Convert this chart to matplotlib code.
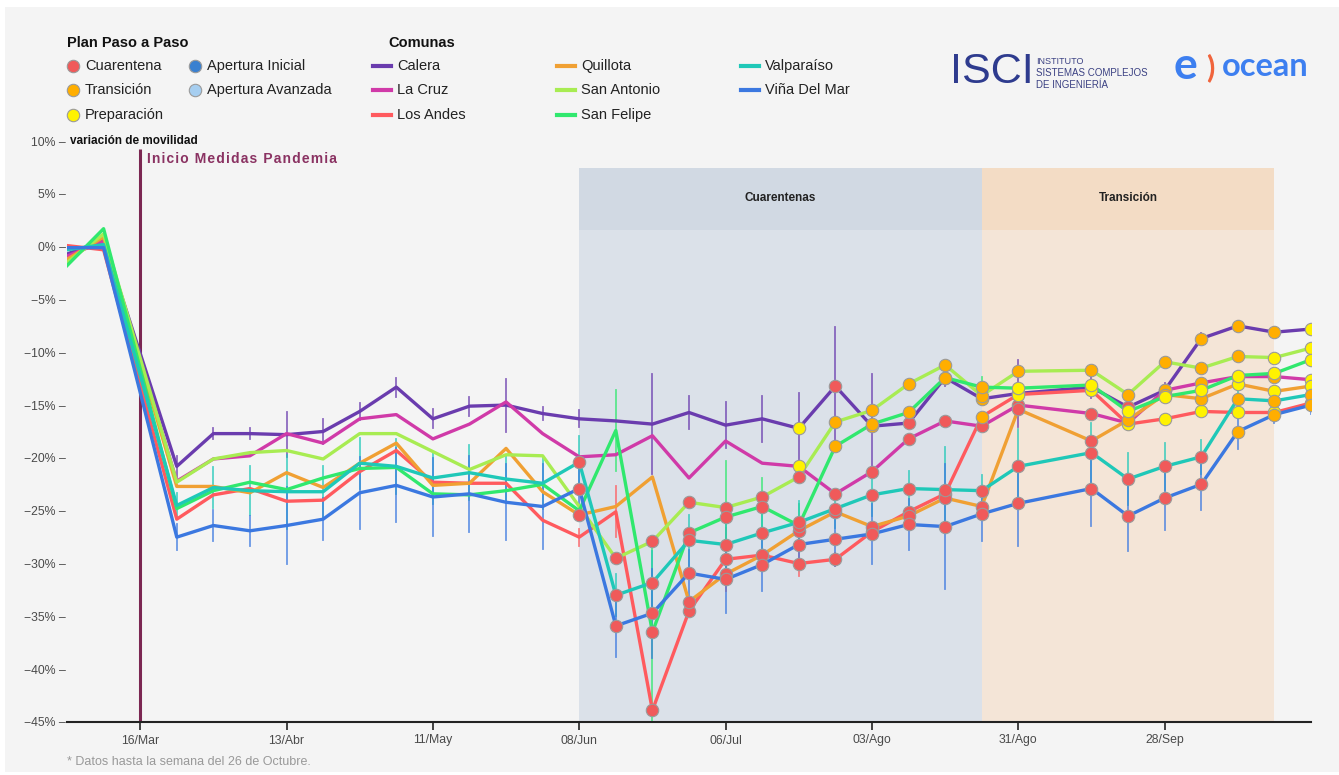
import pandas as pd
import matplotlib
matplotlib.use("Agg")
import matplotlib.pyplot as plt
from matplotlib.patches import Rectangle

plt.rcParams['font.family'] = ['Liberation Sans', 'DejaVu Sans']

# semanas con dato (falta 16/Mar y 07/Sep)
WEEKS = ["2020-03-02", "2020-03-09", "2020-03-23", "2020-03-30", "2020-04-06",
         "2020-04-13", "2020-04-20", "2020-04-27", "2020-05-04", "2020-05-11",
         "2020-05-18", "2020-05-25", "2020-06-01", "2020-06-08", "2020-06-15",
         "2020-06-22", "2020-06-29", "2020-07-06", "2020-07-13", "2020-07-20",
         "2020-07-27", "2020-08-03", "2020-08-10", "2020-08-17", "2020-08-24",
         "2020-08-31", "2020-09-14", "2020-09-21", "2020-09-28", "2020-10-05",
         "2020-10-12", "2020-10-19", "2020-10-26"]

TICK_DATES = ["2020-03-16", "2020-04-13", "2020-05-11", "2020-06-08",
              "2020-07-06", "2020-08-03", "2020-08-31", "2020-09-28"]
TICK_LABELS = ["16/Mar", "13/Abr", "11/May", "08/Jun", "06/Jul", "03/Ago", "31/Ago", "28/Sep"]
Y_TICKS = [10, 5, 0, -5, -10, -15, -20, -25, -30, -35, -40, -45]

PANDEMIA_DATE = "2020-03-16"
CUARENTENAS = ("2020-06-08", "2020-08-24")
TRANSICION = ("2020-08-24", "2020-10-19")

# variación de movilidad (%)
CALERA = [-0.7, 0.6, -20.8, -17.7, -17.7, -17.8, -17.5, -15.6, -13.3, -16.3, -15.1, -15.0, -15.8,
          -16.3, -16.5, -16.8, -15.7, -16.9, -16.3, -17.2, -13.2, -17.0, -16.7, -12.4, -14.4,
          -13.9, -13.3, -15.2, -13.6, -8.7, -7.5, -8.1, -7.8]
LA_CRUZ = [-0.9, 0.5, -22.2, -20.1, -19.8, -17.7, -18.6, -16.3, -15.9, -18.2, -16.8, -14.7, -17.7,
           -19.9, -19.7, -17.9, -21.9, -18.4, -20.5, -20.8, -23.4, -21.3, -18.2, -16.5, -17.0,
           -15.0, -15.8, -16.7, -13.6, -12.9, -12.3, -12.3, -12.6]
LOS_ANDES = [0.1, -0.3, -25.8, -23.5, -22.9, -24.1, -24.0, -21.3, -19.3, -22.3, -22.4, -22.4, -25.9,
             -27.5, -25.1, -43.9, -34.5, -29.6, -29.2, -30.0, -29.6, -27.0, -25.1, -23.4, -16.1,
             -14.0, -13.6, -16.8, -16.3, -15.6, -15.7, -15.7, -14.8]
QUILLOTA = [-1.2, 0.9, -22.7, -22.7, -23.3, -21.4, -22.8, -20.5, -18.6, -22.6, -22.4, -19.1, -23.2,
            -25.4, -24.6, -21.8, -33.6, -31.0, -29.2, -26.9, -25.1, -26.5, -25.5, -23.8, -24.6,
            -15.4, -18.4, -16.4, -14.0, -14.4, -13.0, -13.7, -13.2]
SAN_ANTONIO = [-1.5, 1.2, -22.3, -20.1, -19.5, -19.3, -20.1, -17.7, -17.7, -19.4, -21.1, -19.7, -19.8,
               -24.6, -29.5, -27.9, -24.2, -24.7, -23.7, -21.8, -16.6, -15.5, -13.0, -11.2, -14.1,
               -11.8, -11.7, -14.0, -10.9, -11.5, -10.4, -10.5, -9.6]
SAN_FELIPE = [-1.8, 1.7, -24.8, -23.1, -22.3, -23.0, -21.9, -21.0, -20.9, -23.4, -23.5, -23.1, -22.5,
              -25.0, -17.4, -36.5, -27.1, -25.6, -24.6, -26.4, -18.9, -16.8, -15.7, -12.4, -13.3,
              -13.4, -13.1, -15.6, -14.2, -13.6, -12.2, -12.0, -10.7]
VALPARAISO = [-0.3, 0.2, -24.5, -22.8, -23.1, -23.2, -23.2, -20.5, -20.8, -21.9, -21.4, -22.0, -22.4,
              -20.4, -33.0, -31.8, -27.8, -28.2, -27.1, -26.1, -24.8, -23.5, -22.9, -23.0, -23.1,
              -20.8, -19.5, -22.0, -20.8, -19.9, -14.4, -14.6, -14.0]
VINA = [-0.1, -0.1, -27.5, -26.4, -26.9, -26.4, -25.8, -23.3, -22.6, -23.7, -23.4, -24.2, -24.6,
        -22.9, -35.9, -34.7, -30.9, -31.5, -30.1, -28.2, -27.7, -27.2, -26.3, -26.5, -25.3,
        -24.3, -22.9, -25.5, -23.8, -22.5, -17.5, -15.9, -15.0]

# intervalos (+/-) dibujados como barras verticales
CALERA_ERR = [0, 0, 1.0, 0.5, 0.5, 2.1, 1.2, 0.8, 0.9, 0.9, 0.9, 2.5, 0.6, 0.8, 0, 4.7, 1.6,
              2.2, 2.2, 3.3, 5.6, 4.9, 0, 0.8, 0.5, 3.2, 1.0, 0.5, 0.7, 0.5, 0.5, 0.5, 0.5]
LOS_ANDES_ERR = [0, 0, 0, 0, 0, 0, 0, 0, 0, 0, 0, 0, 0, 0.8, 2.4, 0, 0, 3.0, 0, 1.2, 0.6,
                 0, 0, 0, 0, 0, 0, 0, 0, 0, 0, 0, 0]
SAN_FELIPE_ERR = [0, 0, 0, 0, 0, 0, 0, 0, 0, 0, 0, 0, 0, 0, 3.8, 8.5, 0, 5.3, 2.7, 2.0, 0,
                  0, 0, 0, 1.0, 0, 0, 0, 0, 0, 0, 0, 0]
VALPARAISO_ERR = [0, 0, 1.2, 1.9, 2.3, 3.5, 2.4, 2.4, 2.6, 2.5, 2.6, 2.3, 2.4, 2.5, 2.0, 3.0, 2.4,
                  2.5, 2.3, 2.0, 1.8, 2.0, 1.7, 4.0, 1.5, 3.5, 2.8, 2.5, 2.2, 1.6, 1.4, 1.0, 0.8]
VINA_ERR = [0, 0, 1.2, 1.5, 1.4, 3.6, 2.0, 3.4, 3.5, 3.7, 3.6, 3.6, 4.0, 3.0, 2.9, 4.2, 2.2,
            3.2, 2.5, 2.0, 2.5, 2.8, 2.4, 5.9, 2.6, 4.0, 3.5, 3.3, 3.0, 2.4, 1.7, 0.8, 0.8]

# fase Plan Paso a Paso desde 08/Jun: C cuarentena, T transicion, P preparacion, - sin dato
FASE_START = 13
CALERA_FASE = "------PCTCTTPPCTTTTP"
LA_CRUZ_FASE = "------PCCCCCCCPTTPTP"
LOS_ANDES_FASE = "--CCCCCCCCCTPPPPPPPT"
QUILLOTA_FASE = "C--CCCCCCCCCCCTTTPPP"
SAN_ANTONIO_FASE = "-CCCCCCTTTTTTTTTTTPP"
SAN_FELIPE_FASE = "--CCCCCTTTTTPPPPPPPP"
VALPARAISO_FASE = "CCCCCCCCCCCCCCCCCTTT"
VINA_FASE = "CCCCCCCCCCCCCCCCCTTT"

COMUNAS = [
    ("Calera", CALERA, CALERA_ERR, CALERA_FASE, '#6a3cae'),
    ("La Cruz", LA_CRUZ, None, LA_CRUZ_FASE, '#d03aa8'),
    ("Los Andes", LOS_ANDES, LOS_ANDES_ERR, LOS_ANDES_FASE, '#ff5a5e'),
    ("Quillota", QUILLOTA, None, QUILLOTA_FASE, '#f0a033'),
    ("San Antonio", SAN_ANTONIO, None, SAN_ANTONIO_FASE, '#a8ec52'),
    ("San Felipe", SAN_FELIPE, SAN_FELIPE_ERR, SAN_FELIPE_FASE, '#30e86e'),
    ("Valparaíso", VALPARAISO, VALPARAISO_ERR, VALPARAISO_FASE, '#1fc8b8'),
    ("Viña Del Mar", VINA, VINA_ERR, VINA_FASE, '#3b78e0'),
]

FASE_COLORS = {'C': '#f05a5a', 'T': '#ffae00', 'P': '#fff200',
               'A': '#3a80d0', 'B': '#a6cef0'}
FASE_NAMES = [("Cuarentena", 'C'), ("Transición", 'T'), ("Preparación", 'P'),
              ("Apertura Inicial", 'A'), ("Apertura Avanzada", 'B')]

W, H = 1339, 775
dates = pd.to_datetime(WEEKS)

fig = plt.figure(figsize=(W / 100, H / 100), dpi=100)
fig.patch.set_facecolor('white')
fig.patches.append(Rectangle((5 / W, 3 / H), 1, 765 / H, transform=fig.transFigure,
                             facecolor='#f4f4f4', edgecolor='none', zorder=-10))

ax = fig.add_axes([67 / W, 53 / H, 1244 / W, 581 / H])
ax.set_facecolor('none')

# bandas de periodo
for (d0, d1), body, head, label in [(CUARENTENAS, '#dbe1e9', '#d1d9e3', 'Cuarentenas'),
                                    (TRANSICION, '#f4e5d7', '#f3dcc5', 'Transición')]:
    x0, x1 = pd.to_datetime(d0), pd.to_datetime(d1)
    ax.fill_between([x0, x1], -45, 1.6, color=body, lw=0, zorder=0)
    ax.fill_between([x0, x1], 1.6, 7.4, color=head, lw=0, zorder=0)
    ax.text(x0 + (x1 - x0) / 2, 4.6, label, ha='center', va='center',
            fontsize=8.5, fontweight='bold', color='#222222')

# inicio medidas pandemia
pd_x = pd.to_datetime(PANDEMIA_DATE)
ax.plot([pd_x, pd_x], [-45, 9.2], color='#7b2752', lw=2.2, zorder=2.5, solid_capstyle='butt')

for name, vals, err, fase, color in COMUNAS:
    if err is not None:
        for d, v, e in zip(dates, vals, err):
            if e > 0:
                ax.plot([d, d], [v - e, v + e], color=color, lw=1.3, alpha=0.75, zorder=2)
    ax.plot(dates, vals, color=color, lw=2.4, zorder=3, solid_joinstyle='round')

for name, vals, err, fase, color in COMUNAS:
    for i, code in enumerate(fase):
        if code == '-':
            continue
        k = FASE_START + i
        ax.scatter(dates[k], vals[k], s=80, color=FASE_COLORS[code],
                   edgecolor='#9a9a9a', linewidth=0.8, zorder=4)

ax.set_xlim(dates[0], dates[-1])
ax.set_ylim(-45, 10)
for s in ['top', 'right', 'left']:
    ax.spines[s].set_visible(False)
ax.spines['bottom'].set_color('#222222')
ax.spines['bottom'].set_linewidth(1.5)

ax.set_xticks(pd.to_datetime(TICK_DATES))
ax.set_xticklabels(TICK_LABELS)
ax.tick_params(axis='x', length=6, width=1.2, color='#222222', labelcolor='#4a4a4a',
               labelsize=8.8, pad=3)
ax.set_yticks(Y_TICKS)
ax.set_yticklabels([f"{v}% –".replace('-', '−') for v in Y_TICKS])
ax.tick_params(axis='y', length=0, labelcolor='#4a4a4a', labelsize=8.8, pad=1)

# capa de anotaciones en pixeles
ov = fig.add_axes([0, 0, 1, 1])
ov.set_xlim(0, W)
ov.set_ylim(H, 0)
ov.axis('off')

ov.text(70, 141, "variación de movilidad", fontsize=8.5, fontweight='bold',
        color='#111111', va='center', ha='left')
ov.text(147, 159, "\u200a".join("Inicio Medidas Pandemia"), fontsize=10, fontweight='bold',
        color='#8a3262', va='center', ha='left')

# leyenda Plan Paso a Paso
ov.text(67, 43, "Plan Paso a Paso", fontsize=10.5, fontweight='bold', color='#111111', va='center')
fase_pos = [(73, 66), (73, 90), (73, 115), (195, 66), (195, 90)]
for (label, code), (px, py) in zip(FASE_NAMES, fase_pos):
    ov.scatter(px, py, s=80, color=FASE_COLORS[code], edgecolor='#9a9a9a', linewidth=0.8)
    ov.text(px + 12, py, label, fontsize=10.5, color='#222222', va='center')

# leyenda Comunas
ov.text(388, 43, "Comunas", fontsize=10.5, fontweight='bold', color='#111111', va='center')
col_x = [373, 557, 741]
for j, (name, vals, err, fase, color) in enumerate(COMUNAS):
    px = col_x[j // 3]
    py = [66, 90, 115][j % 3]
    ov.plot([px, px + 18], [py, py], color=color, lw=3)
    ov.text(px + 24, py, name, fontsize=10.5, color='#222222', va='center')

# logos
ov.text(950, 72, "ISCI", fontsize=31, color='#2e3b8e', va='center', ha='left')
ov.text(1036, 61, "INSTITUTO", fontsize=6.5, color='#3b4183', va='center')
ov.text(1036, 73, "SISTEMAS COMPLEJOS", fontsize=7, color='#3b4183', va='center')
ov.text(1036, 85, "DE INGENIERÍA", fontsize=7, color='#3b4183', va='center')
ov.text(1174, 66, "e", fontsize=32, fontweight='bold', color='#3d7ff0', va='center',
        family=['Lato', 'DejaVu Sans'])
ov.text(1206, 68, ")", fontsize=22, fontweight='bold', color='#f0643c', va='center',
        family=['Lato', 'DejaVu Sans'])
ov.text(1222, 66, "ocean", fontsize=23.5, fontweight='bold', color='#3d7ff0', va='center',
        family=['Lato', 'DejaVu Sans'])

ov.text(67, 762, "* Datos hasta la semana del 26 de Octubre.", fontsize=9,
        color='#999999', va='center')

fig.savefig("out.png", dpi=100, facecolor=fig.get_facecolor())
